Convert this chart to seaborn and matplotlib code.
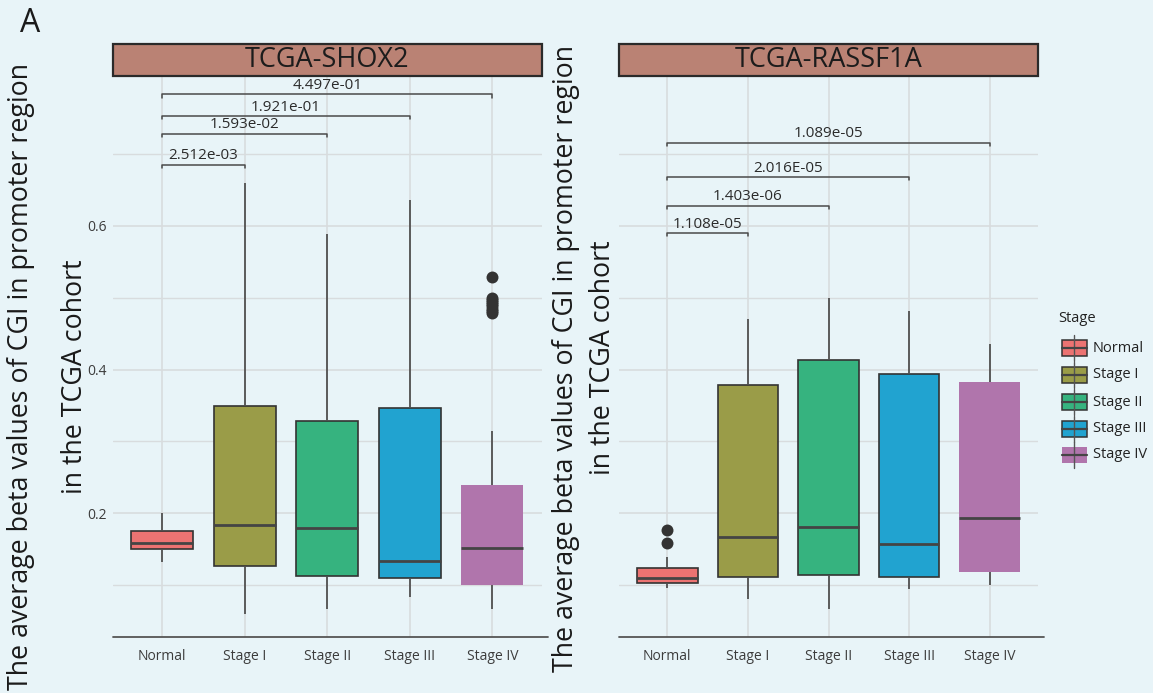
import numpy as np
import pandas as pd
import matplotlib
matplotlib.use("Agg")
import matplotlib.pyplot as plt
import matplotlib.colors as mcolors
from matplotlib.patches import Rectangle
import seaborn as sns

# ---- data -------------------------------------------------------------
stages = ["Normal", "Stage I", "Stage II", "Stage III", "Stage IV"]
stage_colors = ["#EC7372", "#9A9C48", "#36B37F", "#21A3D0", "#B075AC"]

# TCGA-SHOX2: five-number summaries per stage
shox2_lower = [0.132, 0.060, 0.067, 0.084, 0.067]
shox2_q1 = [0.150, 0.127, 0.113, 0.110, 0.100]
shox2_median = [0.158, 0.183, 0.179, 0.133, 0.152]
shox2_q3 = [0.175, 0.349, 0.329, 0.346, 0.239]
shox2_upper = [0.200, 0.660, 0.588, 0.636, 0.314]
shox2_outlier_stage = ["Stage IV"] * 9
shox2_outlier_value = [0.529, 0.500, 0.497, 0.494, 0.491, 0.488, 0.485, 0.482, 0.479]
shox2_pvalues = ["2.512e-03", "1.593e-02", "1.921e-01", "4.497e-01"]
shox2_compare = ["Stage I", "Stage II", "Stage III", "Stage IV"]
shox2_bracket_y = [0.685, 0.728, 0.753, 0.783]

# TCGA-RASSF1A: five-number summaries per stage
rassf1a_lower = [0.096, 0.080, 0.067, 0.094, 0.100]
rassf1a_q1 = [0.103, 0.111, 0.114, 0.111, 0.118]
rassf1a_median = [0.110, 0.167, 0.181, 0.157, 0.193]
rassf1a_q3 = [0.124, 0.379, 0.413, 0.394, 0.383]
rassf1a_upper = [0.139, 0.470, 0.500, 0.482, 0.436]
rassf1a_outlier_stage = ["Normal", "Normal"]
rassf1a_outlier_value = [0.158, 0.177]
rassf1a_pvalues = ["1.108e-05", "1.403e-06", "2.016E-05", "1.089e-05"]
rassf1a_compare = ["Stage I", "Stage II", "Stage III", "Stage IV"]
rassf1a_bracket_y = [0.590, 0.628, 0.668, 0.716]

y_label_lines = ["The average beta values of CGI in promoter region",
                 "in the TCGA cohort"]

# ---- style ------------------------------------------------------------
sns.set_theme(style="white")
plt.rcParams["font.family"] = ["Open Sans", "DejaVu Sans"]

BG = "#E8F4F8"
GRID = "#D8DCDE"
DARK = "#333333"
STRIP = "#BA8274"

W, H = 1153, 693
fig = plt.figure(figsize=(W / 100, H / 100), dpi=100, facecolor=BG)

panel_bottom, panel_top = 637, 76
def panel_rect(x0, x1):
    return [x0 / W, 1 - panel_bottom / H, (x1 - x0) / W, (panel_bottom - panel_top) / H]

ax_left = fig.add_axes(panel_rect(112.5, 542))
ax_right = fig.add_axes(panel_rect(619, 1038))


def summary_frame(lo, q1, med, q3, hi):
    rows = []
    for i, s in enumerate(stages):
        for v in (lo[i], q1[i], med[i], q3[i], hi[i]):
            rows.append((s, v))
    return pd.DataFrame(rows, columns=["Stage", "value"])


def draw_panel(ax, title, lo, q1, med, q3, hi, out_stage, out_val,
               compare, pvals, bracket_y, show_yticks):
    df = summary_frame(lo, q1, med, q3, hi)
    ax.set_facecolor("none")
    sns.boxplot(data=df, x="Stage", y="value", hue="Stage", order=stages,
                hue_order=stages, palette=stage_colors, saturation=1,
                whis=(0, 100), width=0.75, linecolor=DARK, linewidth=1.2,
                fliersize=0, legend=False, ax=ax,
                medianprops={"color": "#444444", "linewidth": 2.0},
                whiskerprops={"color": "#505050", "linewidth": 1.3},
                capprops={"linewidth": 0}, zorder=3)
    # the Stage IV box is drawn without an outline
    target = mcolors.to_rgba(stage_colors[4])
    for p in ax.patches:
        if np.allclose(p.get_facecolor(), target, atol=0.01):
            p.set_edgecolor("none")

    odf = pd.DataFrame({"Stage": out_stage, "value": out_val})
    sns.stripplot(data=odf, x="Stage", y="value", order=stages, jitter=False,
                  color="#333333", size=8.6, linewidth=0, ax=ax, zorder=4)

    ax.set_xlim(-0.6, 4.6)
    ax.set_ylim(0.0278, 0.8086)
    ax.set_yticks([0.2, 0.4, 0.6])
    ax.set_yticks([0.1, 0.3, 0.5, 0.7], minor=True)
    ax.grid(True, which="major", axis="both", color=GRID, linewidth=1.2, zorder=0)
    ax.grid(True, which="minor", axis="y", color=GRID, linewidth=1.0, zorder=0)
    ax.set_axisbelow(True)
    for side in ("top", "right", "left", "bottom"):
        ax.spines[side].set_visible(False)
    ax.plot([0, 1.015], [0, 0], transform=ax.transAxes, color="#555555",
            linewidth=1.3, clip_on=False, zorder=5)
    ax.tick_params(axis="both", which="both", length=0)
    ax.tick_params(axis="x", pad=9, labelsize=10, labelcolor="#3C3C3C")
    ax.tick_params(axis="y", pad=4, labelsize=10, labelcolor="#3C3C3C")
    if show_yticks:
        ax.set_yticklabels(["0.2", "0.4", "0.6"])
    else:
        ax.set_yticklabels([])
    ax.set_xlabel("")
    ax.set_ylabel("")

    # comparison brackets
    tip = 0.0045
    for stage, p, y in zip(compare, pvals, bracket_y):
        x1, x2 = 0, stages.index(stage)
        ax.plot([x1, x1, x2, x2], [y - tip, y, y, y - tip], color="#4A4A4A",
                linewidth=1.1, zorder=5, clip_on=False)
        ax.text((x1 + x2) / 2, y + 0.002, p, ha="center", va="bottom",
                fontsize=11, color="#2B2B2B", zorder=6)

    # facet strip
    h = 32 / (panel_bottom - panel_top)
    ax.add_patch(Rectangle((0, 1), 1, h, transform=ax.transAxes,
                           facecolor=STRIP, edgecolor="#2A2A2A", linewidth=1.6,
                           clip_on=False, zorder=6))
    ax.text(0.5, 1 + h / 2, title, transform=ax.transAxes, ha="center",
            va="center", fontsize=19.5, color="#1C1C1C", zorder=7)


draw_panel(ax_left, "TCGA-SHOX2", shox2_lower, shox2_q1, shox2_median,
           shox2_q3, shox2_upper, shox2_outlier_stage, shox2_outlier_value,
           shox2_compare, shox2_pvalues, shox2_bracket_y, True)
draw_panel(ax_right, "TCGA-RASSF1A", rassf1a_lower, rassf1a_q1, rassf1a_median,
           rassf1a_q3, rassf1a_upper, rassf1a_outlier_stage, rassf1a_outlier_value,
           rassf1a_compare, rassf1a_pvalues, rassf1a_bracket_y, False)

# ---- overlay for labels and legend (pixel coordinates) ----------------
ov = fig.add_axes([0, 0, 1, 1], facecolor="none", zorder=10)
ov.set_xlim(0, W)
ov.set_ylim(H, 0)
ov.axis("off")

ov.text(30, 24, "A", fontsize=23, ha="center", va="center", color="#1A1A1A")

for (x1, x2, yc) in [(21, 75, 377), (566, 603, 358)]:
    ov.text(x1, yc, y_label_lines[0], rotation=90, ha="center", va="center",
            fontsize=19.3, color="#1A1A1A")
    ov.text(x2, yc, y_label_lines[1], rotation=90, ha="center", va="center",
            fontsize=19.3, color="#1A1A1A")

# legend
ov.text(1058, 318, "Stage", ha="left", va="center", fontsize=10.5, color="#222222")
key_y = [348, 375, 402, 429, 455]
for s, c, yk in zip(stages, stage_colors, key_y):
    ov.plot([1074, 1074], [yk - 13, yk + 13], color="#555555", linewidth=1.0)
    edge = "none" if s == "Stage IV" else DARK
    ov.add_patch(Rectangle((1061.5, yk - 8), 25, 16, facecolor=c,
                           edgecolor=edge, linewidth=1.1))
    ov.plot([1061.5, 1086.5], [yk, yk], color="#444444", linewidth=1.6)
    ov.text(1093, yk, s, ha="left", va="center", fontsize=10.5, color="#222222")

fig.savefig("out.png", dpi=100, facecolor=BG)
